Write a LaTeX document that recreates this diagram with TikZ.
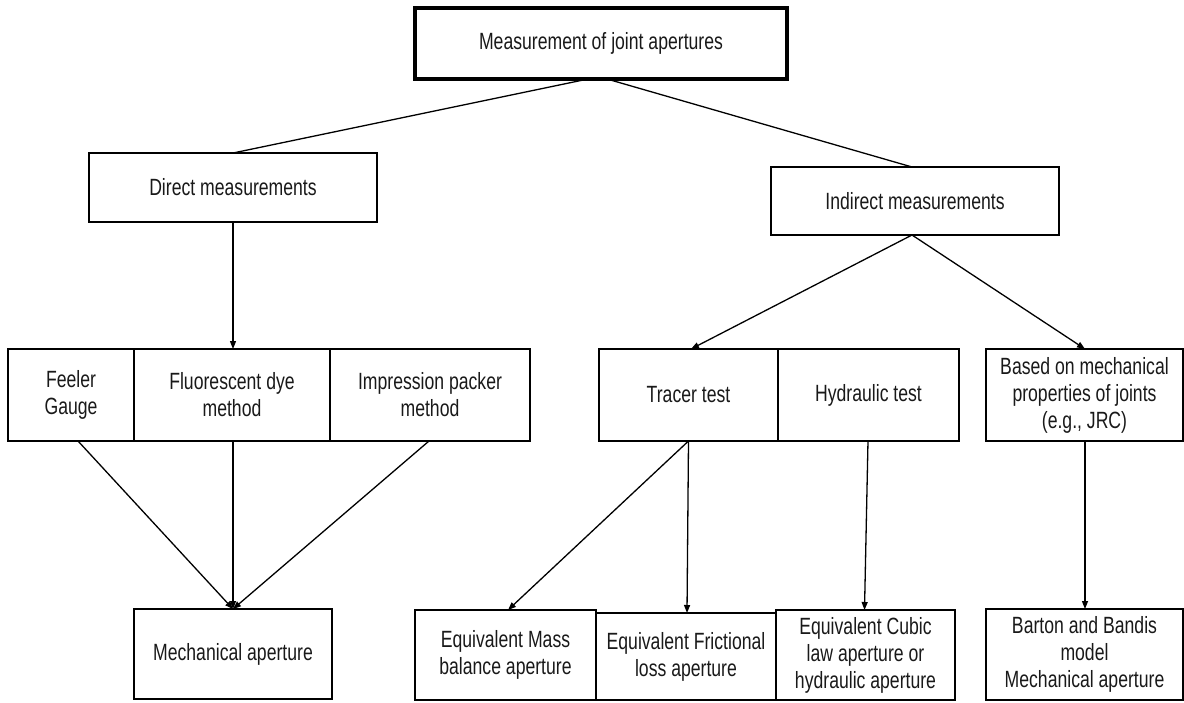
\documentclass[tikz,border=0pt]{standalone}
\usepackage{fontspec}
\setmainfont[FakeStretch=0.75]{Liberation Sans}
\usetikzlibrary{arrows.meta}

\begin{document}
\begin{tikzpicture}[x=1pt, y=-1pt,
  box/.style={draw=black, line width=1.3pt, inner sep=0pt, outer sep=0pt,
    align=center, text=black!90, font=\fontsize{23.5}{27}\selectfont},
  headbox/.style={box, line width=3.6pt},
  link/.style={draw=black, line width=1.3pt},
  arr/.style={link, -{Triangle[length=8pt, width=6pt]}}
]
\useasboundingbox (0,0) rectangle (1184,702);

% root
\node[headbox, minimum width=372pt, minimum height=71pt] (root) at (601,43.5) {Measurement of joint apertures};

% second level
\node[box, minimum width=288pt, minimum height=69pt] (direct) at (233,187.5) {Direct measurements};
\node[box, minimum width=288pt, minimum height=68pt] (indirect) at (915,201) {Indirect measurements};

% direct methods
\node[box, minimum width=126pt, minimum height=92pt] (feeler) at (71,395) {Feeler\\Gauge};
\node[box, minimum width=196pt, minimum height=92pt] (fluor) at (232,395) {Fluorescent dye\\method};
\node[box, minimum width=200pt, minimum height=92pt] (impr) at (430,395) {Impression packer\\method};

% indirect methods
\node[box, minimum width=179pt, minimum height=92pt] (tracer) at (688.5,395) {Tracer test};
\node[box, minimum width=181pt, minimum height=92pt] (hydraulic) at (868.5,395) {Hydraulic test};
\node[box, minimum width=197pt, minimum height=92pt] (based) at (1084.5,395) {Based on mechanical\\properties of joints\\(e.g., JRC)};

% apertures
\node[box, minimum width=198pt, minimum height=90pt] (mech) at (233,654) {Mechanical aperture};
\node[box, minimum width=181pt, minimum height=90pt] (mass) at (505.5,655) {Equivalent Mass\\balance aperture};
\node[box, minimum width=180pt, minimum height=87pt] (fric) at (686,656.5) {Equivalent Frictional\\loss aperture};
\node[box, minimum width=179pt, minimum height=90pt] (cubic) at (865.5,655) {Equivalent Cubic\\law aperture or\\hydraulic aperture};
\node[box, minimum width=197pt, minimum height=91pt] (barton) at (1084.5,654.5) {Barton and Bandis\\model\\Mechanical aperture};

% connectors
\draw[link] ([xshift=-13pt]root.south) -- (direct.north);
\draw[link] ([xshift=6pt]root.south) -- ([xshift=-3pt]indirect.north);

\draw[arr] (direct.south) -- ([xshift=1pt]fluor.north);
\draw[arr] ([xshift=-3pt]indirect.south) -- ([xshift=2.5pt]tracer.north);
\draw[arr] ([xshift=-3pt]indirect.south) -- ([xshift=0.5pt]based.north);

\draw[arr] ([xshift=7pt]feeler.south) -- (mech.north);
\draw[arr] ([xshift=1pt]fluor.south) -- (mech.north);
\draw[arr] ([xshift=-1pt]impr.south) -- (mech.north);

\draw[arr] (tracer.south) -- ([xshift=2.5pt]mass.north);
\draw[arr] (tracer.south) -- ([xshift=1pt]fric.north);
\draw[arr] ([xshift=-0.5pt]hydraulic.south) -- ([xshift=-1pt]cubic.north);
\draw[arr] ([xshift=0.5pt]based.south) -- ([xshift=0.5pt]barton.north);
\end{tikzpicture}
\end{document}
